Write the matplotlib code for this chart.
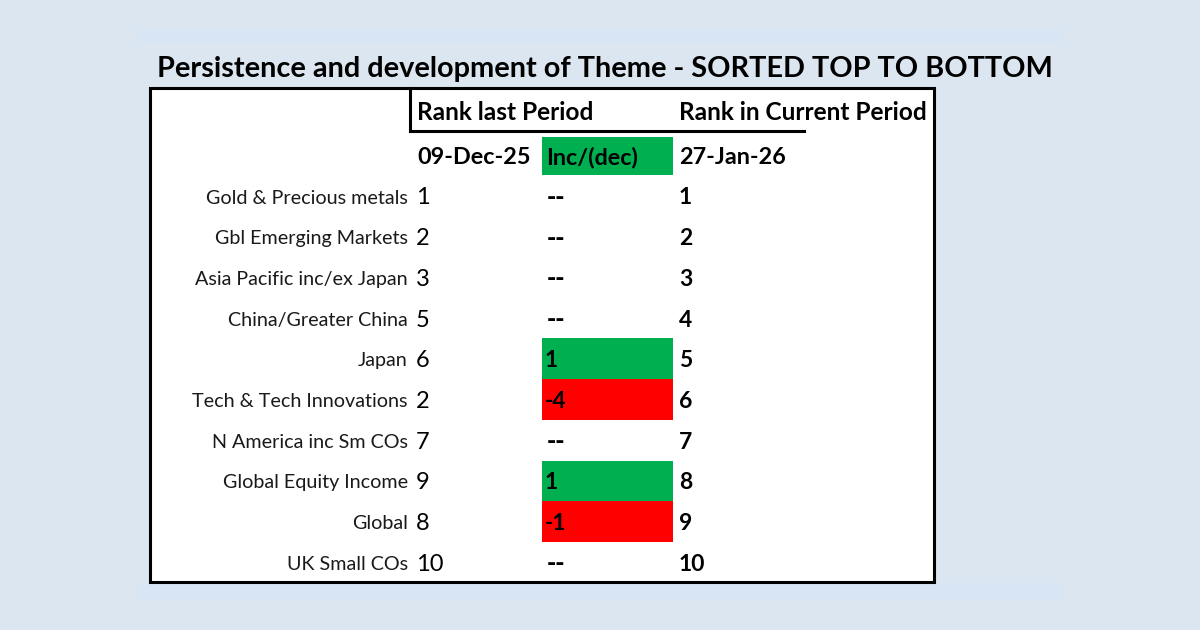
import matplotlib
matplotlib.use("Agg")
import matplotlib.pyplot as plt
from matplotlib.patches import Rectangle

plt.rcParams['font.family'] = ['Lato', 'DejaVu Sans']

title = "Persistence and development of Theme - SORTED TOP TO BOTTOM"
header_last = "Rank last Period"
header_current = "Rank in Current Period"
date_last = "09-Dec-25"
header_change = "Inc/(dec)"
date_current = "27-Jan-26"

categories = ["Gold & Precious metals", "Gbl Emerging Markets", "Asia Pacific inc/ex Japan",
              "China/Greater China", "Japan", "Tech & Tech Innovations",
              "N America inc Sm COs", "Global Equity Income", "Global", "UK Small COs"]
last_rank = [1, 2, 3, 5, 6, 2, 7, 9, 8, 10]
change = [None, None, None, None, 1, -4, None, 1, -1, None]
current_rank = [1, 2, 3, 4, 5, 6, 7, 8, 9, 10]

BG = "#dce6f0"
STRIP = "#d7e5f4"
GREEN = "#00b050"
RED = "#ff0000"

fig = plt.figure(figsize=(12, 6.3), dpi=100, facecolor=BG)
ax = fig.add_axes([0, 0, 1, 1])
ax.set_xlim(0, 1200)
ax.set_ylim(630, 0)
ax.axis("off")
ax.set_facecolor(BG)

# light strips
ax.add_patch(Rectangle((137, 30), 926, 13, facecolor=STRIP, edgecolor="none"))
ax.add_patch(Rectangle((137, 583), 926, 16, facecolor=STRIP, edgecolor="none"))

# table body
ax.add_patch(Rectangle((150, 88), 784, 494, facecolor="white", edgecolor="black", lw=2.2, zorder=2))
ax.plot([410, 410], [88, 131], color="black", lw=2.2, zorder=3)
ax.plot([410, 804], [131, 131], color="black", lw=2.2, zorder=3)

dy = 2
ax.text(605, 67 + dy, title, ha="center", va="center", fontsize=20.8, fontweight="bold", color="black")

ax.text(417, 111 + dy, header_last, ha="left", va="center", fontsize=17.6, fontweight="bold", zorder=4)
ax.text(679, 111 + dy, header_current, ha="left", va="center", fontsize=17.6, fontweight="bold", zorder=4)

row0 = 196
step = 40.7
hdr_y = 156
ax.add_patch(Rectangle((542, 137), 131, 38, facecolor=GREEN, edgecolor="none", zorder=3))
ax.text(417, hdr_y + dy, date_last, ha="left", va="center", fontsize=16.8, fontweight="bold", zorder=4)
ax.text(546, hdr_y + dy, header_change, ha="left", va="center", fontsize=16.8, fontweight="bold", zorder=4)
ax.text(679, hdr_y + dy, date_current, ha="left", va="center", fontsize=16.8, fontweight="bold", zorder=4)

for i, (cat, lr, ch, cr) in enumerate(zip(categories, last_rank, change, current_rank)):
    y = row0 + i * step
    ax.text(408, y + dy, cat, ha="right", va="center", fontsize=14.2, color="#1a1a1a", zorder=4)
    ax.text(416, y + dy, str(lr), ha="left", va="center", fontsize=17, color="black", zorder=4)
    if ch is None:
        ax.text(547, y + dy, "--", ha="left", va="center", fontsize=18, fontweight="heavy", zorder=4)
    else:
        col = GREEN if ch > 0 else RED
        ax.add_patch(Rectangle((542, y - step / 2), 131, step, facecolor=col, edgecolor="none", zorder=3))
        ax.text(545, y + dy, str(ch), ha="left", va="center", fontsize=16.5, fontweight="bold", zorder=4)
    ax.text(679, y + dy, str(cr), ha="left", va="center", fontsize=16.5, fontweight="bold", zorder=4)

fig.savefig("out.png", dpi=100, facecolor=BG)
